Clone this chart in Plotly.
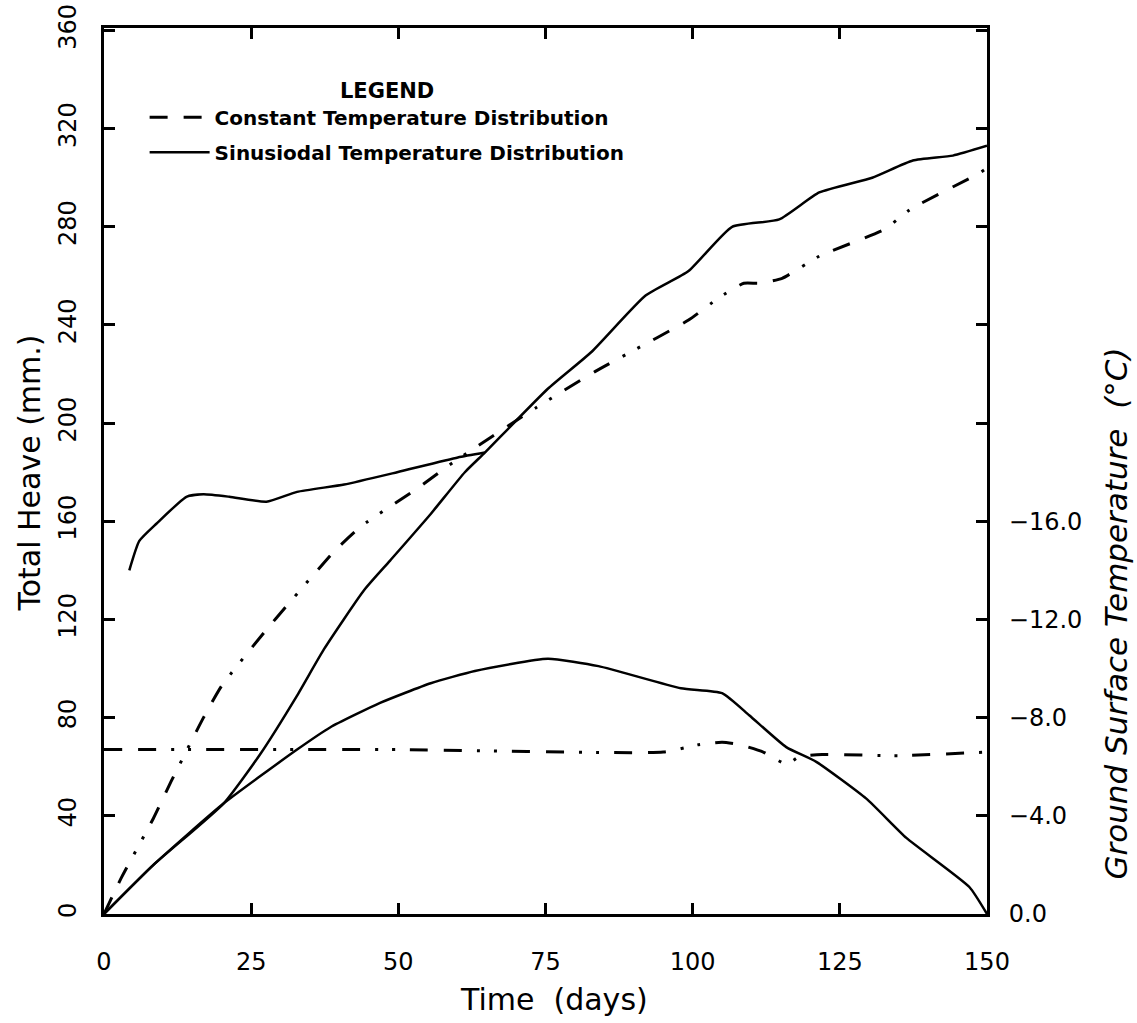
import plotly.graph_objects as go

# ---- data ----
# Total heave (mm), constant temperature distribution
const_days = [0, 3, 8.4, 11.4, 16.9, 20, 27.3, 31.2, 39.2, 43.7, 53.6, 58.7, 73.2,
              83.4, 88.7, 99.3, 104.4, 108.7, 111.3, 115.2, 121.5, 132.6, 136.9, 148.8, 150]
const_heave = [0, 15, 39, 54, 80, 93, 115, 126, 148, 158, 174, 183, 206,
               221, 228, 242, 251, 257, 257, 259, 268, 279, 287, 302, 304]

# Total heave (mm), sinusoidal temperature distribution
sin_days = [0, 8.4, 20.3, 26.5, 32.8, 37.4, 44.2, 48.6, 55.5, 61.3, 64.7, 75.4, 82.8,
            92, 99.3, 106.7, 114.7, 121.5, 130.5, 137.4, 144.2, 150]
sin_heave = [0, 20, 45, 65, 89, 108, 132, 144, 163, 180, 188, 214, 229,
             252, 262, 280, 283, 294, 300, 307, 309, 313]

# Upper solid trace (early part of sinusoidal run)
upper_days = [4.3, 6, 8.9, 14, 16.9, 21.3, 27.6, 32.8, 40.8, 49.8, 60.1, 64.7]
upper_heave = [140, 152, 159, 170, 171, 170, 168, 172, 175, 180, 186, 188]

# Ground surface temperature (deg C)
tsin_days = [0, 8.4, 20.3, 32.8, 38.4, 46.9, 55.5, 63, 75.4, 84, 98, 105, 109.6,
             115.9, 121, 129.5, 136.3, 147, 150]
tsin_temp = [0, -2.0, -4.5, -6.7, -7.6, -8.6, -9.4, -9.9, -10.4, -10.1, -9.2, -9.0, -8.1,
             -6.8, -6.2, -4.7, -3.1, -1.1, 0]

tconst_days = [0, 50, 95, 101, 105, 108, 112, 116, 118, 122, 135, 150]
tconst_temp = [-6.7, -6.7, -6.6, -6.9, -7.0, -6.9, -6.6, -6.1, -6.4, -6.5, -6.45, -6.6]

x_ticks = [0, 25, 50, 75, 100, 125, 150]
y_ticks = [0, 40, 80, 120, 160, 200, 240, 280, 320, 360]
y_labels = ["0", "40", "80", "120", "160", "200", "240", "280", "320", "360"]
y2_ticks = [0, -4, -8, -12, -16, -20, -24, -28, -32, -36]
y2_labels = ["0.0", "\u22124.0", "\u22128.0", "\u221212.0", "\u221216.0", "", "", "", "", ""]

DASH = "18px,16px,18px,15px,3px,14px,3px,15px"
FONT = "DejaVu Sans"

fig = go.Figure()

fig.add_trace(go.Scatter(x=const_days, y=const_heave, mode="lines",
                         name="Constant Temperature Distribution", legendgroup="c",
                         line=dict(color="black", width=3, dash=DASH, shape="spline", smoothing=0.5)))
fig.add_trace(go.Scatter(x=sin_days, y=sin_heave, mode="lines",
                         name="Sinusiodal Temperature Distribution", legendgroup="s",
                         line=dict(color="black", width=2.5, shape="spline", smoothing=0.5)))
fig.add_trace(go.Scatter(x=upper_days, y=upper_heave, mode="lines", showlegend=False,
                         line=dict(color="black", width=2.5, shape="spline", smoothing=0.5)))
fig.add_trace(go.Scatter(x=tsin_days, y=tsin_temp, mode="lines", showlegend=False, yaxis="y2",
                         line=dict(color="black", width=2.5, shape="spline", smoothing=0.5)))
fig.add_trace(go.Scatter(x=tconst_days, y=tconst_temp, mode="lines", showlegend=False, yaxis="y2",
                         line=dict(color="black", width=3, dash=DASH, shape="spline", smoothing=0.5)))

axis_common = dict(showgrid=False, zeroline=False, showline=True, linecolor="black", linewidth=3,
                   ticks="inside", ticklen=11, tickwidth=2.5, tickcolor="black", automargin=False,
                   tickfont=dict(family=FONT, size=24, color="black"))

fig.update_layout(
    width=1137, height=1023,
    margin=dict(l=104, r=150, t=28, b=109, autoexpand=False),
    paper_bgcolor="white", plot_bgcolor="white",
    xaxis=dict(range=[0, 150], tickvals=x_ticks, mirror="ticks", ticklabelstandoff=24, **axis_common),
    yaxis=dict(range=[0, 361], tickvals=y_ticks, ticktext=y_labels, tickangle=-90,
               ticklabelstandoff=15, ticklabeloverflow="allow", **axis_common),
    yaxis2=dict(range=[0, -36.1], overlaying="y", side="right", tickvals=y2_ticks, ticktext=y2_labels,
                ticklabelstandoff=14, **axis_common),
    legend=dict(x=0.046, y=0.952, xanchor="left", yanchor="top", tracegroupgap=6,
                bgcolor="rgba(0,0,0,0)", borderwidth=0, itemwidth=60,
                font=dict(family=FONT, size=20, color="black", weight="bold"),
                title=dict(text="<b>LEGEND</b>", side="top center",
                           font=dict(family=FONT, size=21, color="black"))),
    annotations=[
        dict(text="Time  (days)", xref="paper", yref="paper", x=0.51, y=-0.096,
             xanchor="center", yanchor="middle",
             showarrow=False, font=dict(family=FONT, size=30, color="black")),
        dict(text="Total Heave (mm.)", xref="paper", yref="paper", x=-0.084, y=0.498,
             xanchor="center", yanchor="middle",
             textangle=-90, showarrow=False, font=dict(family=FONT, size=30, color="black")),
        dict(text="<i>Ground Surface Temperature  (\u00b0C)</i>", xref="paper", yref="paper",
             x=1.146, y=0.339, xanchor="center", yanchor="middle", textangle=-90, showarrow=False,
             font=dict(family=FONT, size=31, color="black")),
    ],
)

fig.write_html("out.html")
